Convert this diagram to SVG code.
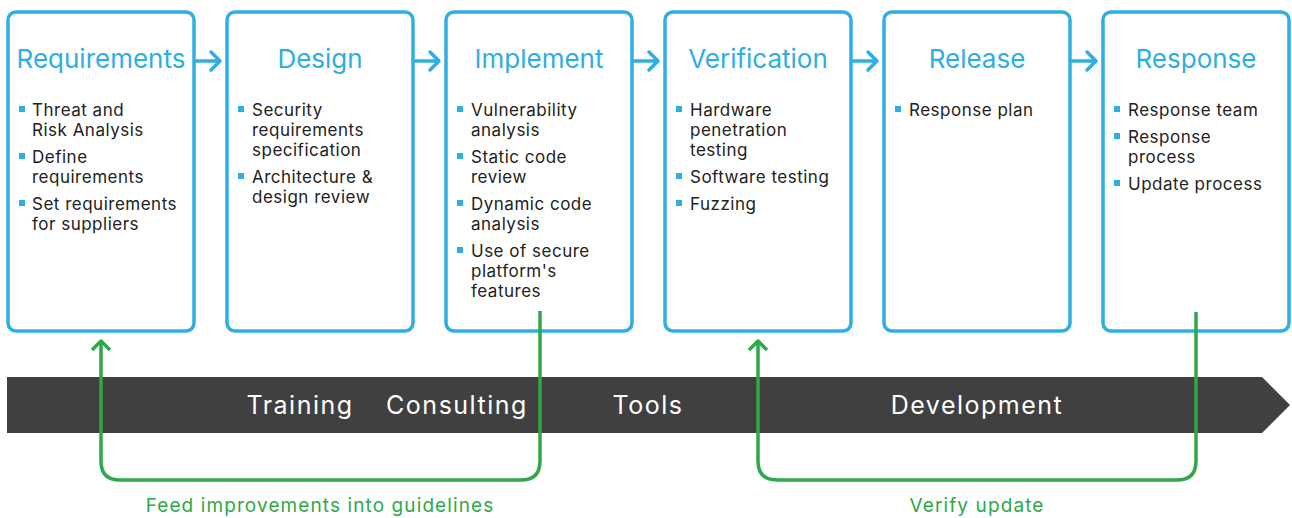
<svg xmlns="http://www.w3.org/2000/svg" width="1292" height="518" viewBox="0 0 1292 518">
<style>
.box{fill:#fff;stroke:#2eaee3;stroke-width:3.5}
.title{font-family:Inter,"Noto Sans",sans-serif;font-size:26px;fill:#2eaee3;text-anchor:middle}
.item{font-family:Inter,"Noto Sans",sans-serif;font-size:17px;letter-spacing:0.5px;fill:#222}
.bul{fill:#2eaee3}
.flow{fill:none;stroke:#2eaee3;stroke-width:3.5;stroke-linecap:round;stroke-linejoin:round}
.loop{fill:none;stroke:#2ea84a;stroke-width:3.5;stroke-linejoin:round}
.band{font-family:Inter,"Noto Sans",sans-serif;font-size:25px;letter-spacing:1.5px;fill:#fff;text-anchor:middle}
.glabel{font-family:Inter,"Noto Sans",sans-serif;font-size:19px;letter-spacing:1.1px;fill:#2ea84a;text-anchor:middle}
</style>
<g id="band">
<polygon points="7,377 1262,377 1290,405 1262,433 7,433" fill="#404040"/>
<text class="band" x="300" y="414">Training</text>
<text class="band" x="457" y="414">Consulting</text>
<text class="band" x="648" y="414">Tools</text>
<text class="band" x="977" y="414">Development</text>
</g>
<g id="n-requirements">
<rect class="box" x="8" y="12" width="186" height="319" rx="8"/>
<text class="title" x="101" y="68">Requirements</text>
<rect class="bul" x="19" y="106" width="6" height="6"/><text class="item" x="32" y="116">Threat and</text><text class="item" x="32" y="136">Risk Analysis</text>
<rect class="bul" x="19" y="153" width="6" height="6"/><text class="item" x="32" y="163">Define</text><text class="item" x="32" y="183">requirements</text>
<rect class="bul" x="19" y="200" width="6" height="6"/><text class="item" x="32" y="210">Set requirements</text><text class="item" x="32" y="230">for suppliers</text>
</g>
<g id="n-design">
<rect class="box" x="227" y="12" width="186" height="319" rx="8"/>
<text class="title" x="320" y="68">Design</text>
<rect class="bul" x="238" y="106" width="6" height="6"/><text class="item" x="252" y="116">Security</text><text class="item" x="252" y="136">requirements</text><text class="item" x="252" y="156">specification</text>
<rect class="bul" x="238" y="173" width="6" height="6"/><text class="item" x="252" y="183">Architecture &amp;</text><text class="item" x="252" y="203">design review</text>
</g>
<g id="n-implement">
<rect class="box" x="446" y="12" width="186" height="319" rx="8"/>
<text class="title" x="539" y="68">Implement</text>
<rect class="bul" x="457" y="106" width="6" height="6"/><text class="item" x="471" y="116">Vulnerability</text><text class="item" x="471" y="136">analysis</text>
<rect class="bul" x="457" y="153" width="6" height="6"/><text class="item" x="471" y="163">Static code</text><text class="item" x="471" y="183">review</text>
<rect class="bul" x="457" y="200" width="6" height="6"/><text class="item" x="471" y="210">Dynamic code</text><text class="item" x="471" y="230">analysis</text>
<rect class="bul" x="457" y="247" width="6" height="6"/><text class="item" x="471" y="257">Use of secure</text><text class="item" x="471" y="277">platform's</text><text class="item" x="471" y="297">features</text>
</g>
<g id="n-verification">
<rect class="box" x="665" y="12" width="186" height="319" rx="8"/>
<text class="title" x="758" y="68">Verification</text>
<rect class="bul" x="676" y="106" width="6" height="6"/><text class="item" x="690" y="116">Hardware</text><text class="item" x="690" y="136">penetration</text><text class="item" x="690" y="156">testing</text>
<rect class="bul" x="676" y="173" width="6" height="6"/><text class="item" x="690" y="183">Software testing</text>
<rect class="bul" x="676" y="200" width="6" height="6"/><text class="item" x="690" y="210">Fuzzing</text>
</g>
<g id="n-release">
<rect class="box" x="884" y="12" width="186" height="319" rx="8"/>
<text class="title" x="977" y="68">Release</text>
<rect class="bul" x="895" y="106" width="6" height="6"/><text class="item" x="909" y="116">Response plan</text>
</g>
<g id="n-response">
<rect class="box" x="1103" y="12" width="186" height="319" rx="8"/>
<text class="title" x="1196" y="68">Response</text>
<rect class="bul" x="1114" y="106" width="6" height="6"/><text class="item" x="1128" y="116">Response team</text>
<rect class="bul" x="1114" y="133" width="6" height="6"/><text class="item" x="1128" y="143">Response</text><text class="item" x="1128" y="163">process</text>
<rect class="bul" x="1114" y="180" width="6" height="6"/><text class="item" x="1128" y="190">Update process</text>
</g>
<g id="connectors">
<path class="flow" d="M196,61 H219 M211,52 L220,61 L211,70"/>
<path class="flow" d="M415,61 H438 M430,52 L439,61 L430,70"/>
<path class="flow" d="M634,61 H657 M649,52 L658,61 L649,70"/>
<path class="flow" d="M853,61 H876 M868,52 L877,61 L868,70"/>
<path class="flow" d="M1072,61 H1095 M1087,52 L1096,61 L1087,70"/>
<path class="loop" d="M540,311 V461 Q540,480 521,480 H120 Q101,480 101,461 V341"/>
<path class="loop" d="M92,350 L101,341 L110,350"/>
<path class="loop" d="M1196,312 V461 Q1196,480 1177,480 H777 Q758,480 758,461 V341"/>
<path class="loop" d="M749,350 L758,341 L767,350"/>
<text class="glabel" x="320" y="512">Feed improvements into guidelines</text>
<text class="glabel" x="977" y="512">Verify update</text>
</g>
</svg>
